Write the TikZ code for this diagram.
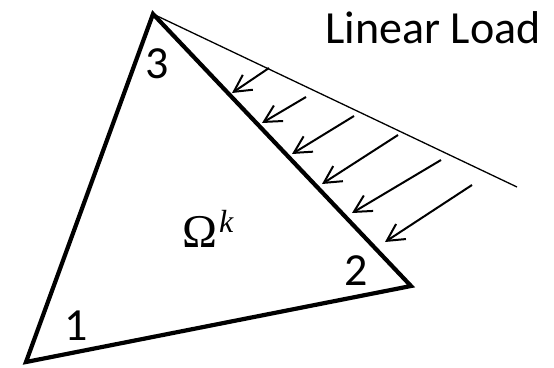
\documentclass[tikz,border=0pt]{standalone}
\usepackage{fontspec}
\setmainfont{Carlito}
\newfontfamily\omfont{Liberation Serif}
\usetikzlibrary{arrows.meta}
\begin{document}
\begin{tikzpicture}[x=1pt,y=-1pt,
  edge/.style={line width=4.2pt,line join=miter},
  loadline/.style={line width=1.3pt},
  loadarrow/.style={line width=2pt,-{Straight Barb[length=17pt,width=18pt,line width=2pt]}},
  lbl/.style={inner sep=0pt,font=\fontsize{46}{54}\selectfont}]
\useasboundingbox (0,0) rectangle (554,367);
\coordinate (v3) at (153,14);
\coordinate (v1) at (26,362);
\coordinate (v2) at (411,286);
\coordinate (le) at (517,187);
\draw[edge] (v1) -- (v2) -- (v3) -- cycle;
\draw[loadline] (v3) -- (le);
\foreach \i/\sx/\sy/\ex/\ey in {1/269/68/232/93, 2/306/97/262/123, 3/354/116/292/154, 4/398/135/322/184, 5/441/160/352/213, 6/472/185/385/242}{
  \coordinate (s\i) at (\sx,\sy);
  \coordinate (e\i) at (\ex,\ey);
  \draw[loadarrow] (s\i) -- (e\i);
}
\node[lbl] (t3) at (157,64) {3};
\node[lbl] (t2) at (356,271) {2};
\node[lbl] (t1) at (76,326) {1};
\node[lbl,anchor=base west] (om) at (182,247) {\omfont\fontsize{47}{54}\selectfont Ω\kern2pt\raisebox{15pt}{\fontsize{32}{34}\selectfont\itshape k}};
\node[lbl] (title) at (433,28) {Linear Load};
\end{tikzpicture}
\end{document}
